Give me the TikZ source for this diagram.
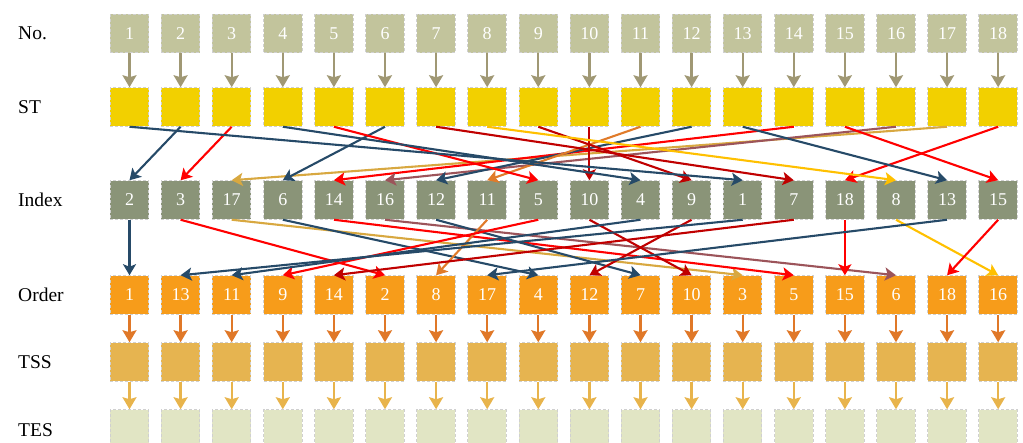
\documentclass[tikz,border=0pt]{standalone}
\usepackage{fontspec}
\setmainfont{Liberation Serif}
\usetikzlibrary{arrows.meta}

% box fills
\definecolor{nofill}{RGB}{194,196,156}
\definecolor{stfill}{RGB}{242,208,0}
\definecolor{ixfill}{RGB}{138,148,120}
\definecolor{odfill}{RGB}{247,156,26}
\definecolor{tssfill}{RGB}{230,180,80}
\definecolor{tesfill}{RGB}{225,229,196}
\definecolor{cellborder}{RGB}{208,208,208}
% straight connectors between rows
\definecolor{nolink}{RGB}{160,152,116}
\definecolor{odlink}{RGB}{224,120,40}
\definecolor{tsslink}{RGB}{232,180,76}
% item colours
\definecolor{navy}{RGB}{38,74,104}
\definecolor{brightred}{RGB}{255,0,0}
\definecolor{deepred}{RGB}{192,0,0}
\definecolor{amber}{RGB}{255,192,0}
\definecolor{goldenrod}{RGB}{216,168,64}
\definecolor{tangerine}{RGB}{224,123,42}
\definecolor{mauve}{RGB}{156,84,90}
\colorlet{c1}{navy}
\colorlet{c2}{navy}
\colorlet{c3}{brightred}
\colorlet{c4}{navy}
\colorlet{c5}{brightred}
\colorlet{c6}{navy}
\colorlet{c7}{deepred}
\colorlet{c8}{amber}
\colorlet{c9}{deepred}
\colorlet{c10}{deepred}
\colorlet{c11}{tangerine}
\colorlet{c12}{navy}
\colorlet{c13}{navy}
\colorlet{c14}{brightred}
\colorlet{c15}{brightred}
\colorlet{c16}{mauve}
\colorlet{c17}{goldenrod}
\colorlet{c18}{brightred}

\begin{document}
\begin{tikzpicture}[x=1pt,y=-1pt,
  cell/.style={minimum width=38.5pt, minimum height=38.5pt, inner sep=0pt,
    draw=cellborder, dash pattern=on 3pt off 2pt, line width=1pt,
    text=white, font=\fontsize{18}{18}\selectfont},
  rowlabel/.style={anchor=west, inner sep=0pt, font=\fontsize{19.5}{20}\selectfont},
  link/.style={line width=2.1pt, -{Stealth[length=11pt,width=13pt,inset=2.5pt]}},
  drop/.style={line width=2.3pt, -{Stealth[length=12pt,width=14pt,inset=2pt]}}]
\useasboundingbox (0,0) rectangle (1023,443);
\clip (0,0) rectangle (1023,443);

% row labels
\node[rowlabel] (lno)  at (18,33.5) {No.};
\node[rowlabel] (lst)  at (18,107) {ST};
\node[rowlabel] (lix)  at (18,200) {Index};
\node[rowlabel] (lod)  at (18,295) {Order};
\node[rowlabel] (ltss) at (18,362) {TSS};
\node[rowlabel] (ltes) at (18,430) {TES};

% plain rows
\foreach \i in {1,...,18} {
  \pgfmathsetmacro\xx{129.5+(\i-1)*51.1}
  \node[cell, fill=nofill]  (no-\i)  at (\xx,33.5) {\i};
  \node[cell, fill=stfill]  (st-\i)  at (\xx,107) {};
  \node[cell, fill=tssfill] (tss-\i) at (\xx,362) {};
  \node[cell, fill=tesfill] (tes-\i) at (\xx,429) {};
}
% index row
\foreach \v [count=\p] in {2,3,17,6,14,16,12,11,5,10,4,9,1,7,18,8,13,15}
  \node[cell, fill=ixfill] (ix-\p) at ({129.5+(\p-1)*51.1},200) {\v};
% order row
\foreach \v [count=\p] in {1,13,11,9,14,2,8,17,4,12,7,10,3,5,15,6,18,16}
  \node[cell, fill=odfill] (od-\p) at ({129.5+(\p-1)*51.1},295) {\v};

% straight connectors
\foreach \i in {1,...,18} {
  \draw[drop, color=nolink]  (no-\i.south)  -- (st-\i.north);
  \draw[drop, color=odlink]  (od-\i.south)  -- (tss-\i.north);
  \draw[drop, color=tsslink] (tss-\i.south) -- (tes-\i.north);
}

% ST -> Index
\foreach \v [count=\p] in {2,3,17,6,14,16,12,11,5,10,4,9,1,7,18,8,13,15}
  \draw[link, color=c\v] (st-\v.south) -- (ix-\p.north);

% Index -> Order
\foreach \p/\v/\q in {1/2/1, 2/3/6, 3/17/13, 4/6/9, 5/14/14, 6/16/16, 7/12/11,
    8/11/7, 9/5/4, 10/10/12, 11/4/3, 12/9/10, 13/1/2, 14/7/5, 15/18/15,
    16/8/18, 17/13/8, 18/15/17}
  \draw[link, color=c\v] (ix-\p.south) -- (od-\q.north);
\end{tikzpicture}
\end{document}
